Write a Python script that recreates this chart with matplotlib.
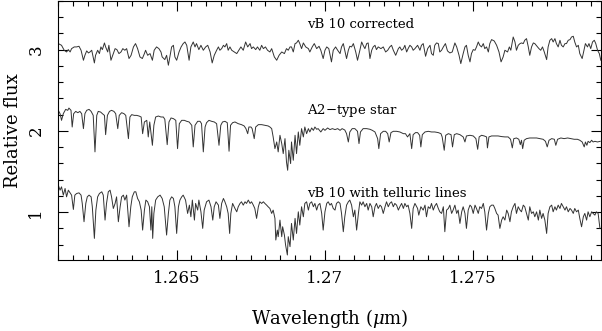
import matplotlib; matplotlib.use("Agg")
import matplotlib.pyplot as plt
from matplotlib.ticker import MultipleLocator, FuncFormatter

plt.rcParams.update({
    "font.family": "serif", "font.serif": ["DejaVu Serif"], "mathtext.fontset": "dejavuserif",
    "font.size": 12, "xtick.direction": "in", "ytick.direction": "in",
    "xtick.top": True, "ytick.right": True,
})

# vB 10 corrected (offset to ~3)
WAVE_TOP = [1.26100, 1.26111, 1.26120, 1.26128, 1.26134, 1.26140, 1.26145, 1.26154, 1.26162, 1.26170,
            1.26177, 1.26185, 1.26190, 1.26196, 1.26202, 1.26207, 1.26213, 1.26222, 1.26226, 1.26233,
            1.26239, 1.26244, 1.26249, 1.26256, 1.26260, 1.26267, 1.26271, 1.26278, 1.26286, 1.26292,
            1.26298, 1.26305, 1.26312, 1.26318, 1.26325, 1.26331, 1.26339, 1.26346, 1.26354, 1.26361,
            1.26368, 1.26376, 1.26384, 1.26391, 1.26395, 1.26402, 1.26410, 1.26418, 1.26424, 1.26432,
            1.26440, 1.26447, 1.26451, 1.26460, 1.26466, 1.26472, 1.26477, 1.26483, 1.26489, 1.26494,
            1.26500, 1.26508, 1.26515, 1.26522, 1.26528, 1.26534, 1.26542, 1.26548, 1.26556, 1.26562,
            1.26567, 1.26575, 1.26582, 1.26590, 1.26598, 1.26605, 1.26613, 1.26620, 1.26627, 1.26635,
            1.26641, 1.26646, 1.26652, 1.26658, 1.26663, 1.26669, 1.26674, 1.26680, 1.26686, 1.26695,
            1.26703, 1.26710, 1.26717, 1.26725, 1.26733, 1.26740, 1.26748, 1.26753, 1.26759, 1.26767,
            1.26773, 1.26781, 1.26787, 1.26793, 1.26800, 1.26807, 1.26815, 1.26821, 1.26830, 1.26838,
            1.26846, 1.26855, 1.26864, 1.26871, 1.26877, 1.26883, 1.26888, 1.26894, 1.26900, 1.26905,
            1.26911, 1.26916, 1.26922, 1.26928, 1.26936, 1.26945, 1.26950, 1.26958, 1.26965, 1.26973,
            1.26981, 1.26987, 1.26995, 1.27001, 1.27007, 1.27014, 1.27023, 1.27029, 1.27037, 1.27044,
            1.27052, 1.27057, 1.27063, 1.27068, 1.27074, 1.27080, 1.27085, 1.27091, 1.27097, 1.27105,
            1.27111, 1.27119, 1.27125, 1.27130, 1.27136, 1.27142, 1.27147, 1.27153, 1.27159, 1.27164,
            1.27170, 1.27175, 1.27181, 1.27190, 1.27198, 1.27206, 1.27213, 1.27220, 1.27226, 1.27232,
            1.27240, 1.27249, 1.27254, 1.27260, 1.27266, 1.27271, 1.27277, 1.27282, 1.27288, 1.27294,
            1.27299, 1.27305, 1.27314, 1.27322, 1.27327, 1.27333, 1.27341, 1.27348, 1.27356, 1.27361,
            1.27367, 1.27372, 1.27378, 1.27384, 1.27389, 1.27395, 1.27401, 1.27408, 1.27415, 1.27423,
            1.27431, 1.27440, 1.27446, 1.27454, 1.27460, 1.27468, 1.27474, 1.27479, 1.27485, 1.27491,
            1.27496, 1.27502, 1.27508, 1.27513, 1.27519, 1.27524, 1.27530, 1.27536, 1.27541, 1.27547,
            1.27553, 1.27558, 1.27564, 1.27573, 1.27581, 1.27589, 1.27596, 1.27603, 1.27609, 1.27618,
            1.27624, 1.27629, 1.27637, 1.27643, 1.27648, 1.27654, 1.27660, 1.27665, 1.27671, 1.27676,
            1.27682, 1.27688, 1.27693, 1.27699, 1.27705, 1.27710, 1.27719, 1.27724, 1.27730, 1.27736,
            1.27742, 1.27750, 1.27755, 1.27761, 1.27767, 1.27772, 1.27778, 1.27783, 1.27789, 1.27795,
            1.27800, 1.27806, 1.27812, 1.27817, 1.27823, 1.27829, 1.27834, 1.27840, 1.27845, 1.27851,
            1.27857, 1.27862, 1.27870, 1.27876, 1.27881, 1.27888, 1.27893, 1.27899, 1.27905, 1.27911,
            1.27916, 1.27922, 1.27928, 1.27933]
FLUX_TOP = [3.074, 3.053, 2.992, 2.971, 3.000, 2.971, 3.012, 3.033, 3.033, 3.041,
            2.992, 2.869, 2.930, 2.984, 2.959, 2.971, 2.992, 2.836, 2.930, 2.992,
            2.951, 3.033, 3.000, 3.082, 3.033, 2.971, 3.053, 2.869, 2.951, 3.012,
            3.000, 2.951, 2.971, 3.012, 2.992, 3.012, 2.890, 2.930, 3.033, 3.074,
            3.012, 2.910, 2.890, 2.951, 2.992, 2.930, 2.951, 2.869, 2.992, 3.033,
            3.012, 2.971, 2.910, 2.877, 2.930, 2.808, 2.910, 3.033, 3.053, 2.910,
            2.869, 2.971, 3.033, 3.074, 3.094, 3.053, 2.869, 3.033, 3.094, 3.033,
            3.074, 3.000, 3.053, 2.992, 3.033, 3.053, 2.971, 2.836, 2.930, 2.992,
            3.033, 2.992, 3.012, 3.053, 3.033, 3.074, 2.992, 3.033, 2.992, 2.971,
            2.951, 2.992, 3.033, 2.992, 3.094, 3.033, 3.074, 3.012, 3.033, 3.000,
            3.033, 2.992, 3.053, 3.012, 3.033, 2.992, 2.971, 3.012, 2.910, 2.869,
            2.930, 2.971, 2.951, 3.012, 2.992, 3.033, 3.033, 2.971, 3.074, 3.082,
            3.115, 3.074, 3.012, 3.082, 3.033, 3.012, 2.971, 3.033, 3.074, 3.012,
            3.041, 2.992, 2.890, 2.992, 3.033, 3.012, 2.849, 2.992, 3.033, 2.992,
            2.951, 3.033, 3.074, 2.992, 2.890, 2.992, 3.041, 3.033, 3.074, 2.971,
            2.869, 2.992, 3.094, 3.053, 3.012, 3.074, 3.082, 2.890, 2.992, 3.033,
            3.053, 3.000, 3.033, 3.012, 3.033, 2.971, 2.992, 3.033, 3.053, 2.992,
            2.930, 3.012, 3.033, 2.992, 3.012, 3.053, 2.971, 3.012, 3.053, 3.033,
            2.992, 3.012, 3.053, 2.992, 3.053, 3.074, 2.918, 3.012, 3.053, 2.951,
            2.930, 3.053, 3.082, 3.074, 2.971, 2.992, 3.033, 3.074, 2.984, 2.959,
            2.971, 3.082, 3.033, 2.930, 2.828, 2.951, 3.033, 3.053, 2.930, 2.849,
            2.951, 3.000, 2.992, 3.033, 3.094, 3.053, 3.033, 3.074, 3.012, 3.033,
            2.971, 3.074, 3.123, 3.106, 3.053, 2.971, 2.849, 2.910, 2.992, 2.971,
            3.033, 2.992, 3.155, 3.094, 2.992, 3.053, 3.074, 3.082, 3.074, 3.115,
            3.135, 3.033, 2.930, 3.033, 3.082, 3.074, 3.033, 3.012, 2.992, 3.033,
            2.971, 2.877, 3.033, 3.115, 3.135, 3.094, 3.135, 3.074, 3.033, 3.115,
            3.053, 3.033, 3.074, 3.074, 3.115, 3.123, 3.155, 3.164, 3.094, 3.033,
            3.053, 2.951, 2.890, 2.992, 3.074, 3.033, 3.074, 3.012, 3.094, 3.115,
            3.074, 2.992, 2.951, 2.869]

# A2-type star (offset to ~2)
WAVE_A2 = [1.26100, 1.26106, 1.26111, 1.26117, 1.26125, 1.26132, 1.26136, 1.26143, 1.26147, 1.26152,
           1.26159, 1.26166, 1.26173, 1.26179, 1.26185, 1.26190, 1.26196, 1.26204, 1.26211, 1.26218,
           1.26224, 1.26230, 1.26235, 1.26243, 1.26249, 1.26256, 1.26260, 1.26266, 1.26273, 1.26280,
           1.26288, 1.26294, 1.26301, 1.26306, 1.26314, 1.26322, 1.26328, 1.26337, 1.26342, 1.26348,
           1.26357, 1.26365, 1.26373, 1.26380, 1.26385, 1.26391, 1.26399, 1.26404, 1.26409, 1.26413,
           1.26418, 1.26423, 1.26429, 1.26438, 1.26447, 1.26455, 1.26460, 1.26468, 1.26474, 1.26481,
           1.26489, 1.26497, 1.26503, 1.26509, 1.26517, 1.26526, 1.26534, 1.26542, 1.26551, 1.26556,
           1.26562, 1.26571, 1.26579, 1.26584, 1.26590, 1.26596, 1.26601, 1.26609, 1.26618, 1.26627,
           1.26635, 1.26643, 1.26649, 1.26655, 1.26663, 1.26671, 1.26677, 1.26682, 1.26689, 1.26697,
           1.26708, 1.26719, 1.26728, 1.26734, 1.26740, 1.26744, 1.26751, 1.26755, 1.26762, 1.26767,
           1.26776, 1.26787, 1.26798, 1.26809, 1.26815, 1.26821, 1.26826, 1.26832, 1.26838, 1.26843,
           1.26849, 1.26855, 1.26860, 1.26866, 1.26871, 1.26875, 1.26879, 1.26885, 1.26888, 1.26894,
           1.26900, 1.26905, 1.26911, 1.26916, 1.26922, 1.26928, 1.26933, 1.26939, 1.26945, 1.26950,
           1.26956, 1.26962, 1.26967, 1.26973, 1.26978, 1.26987, 1.26995, 1.27001, 1.27010, 1.27018,
           1.27026, 1.27035, 1.27044, 1.27052, 1.27059, 1.27068, 1.27074, 1.27080, 1.27085, 1.27093,
           1.27102, 1.27111, 1.27116, 1.27121, 1.27130, 1.27142, 1.27153, 1.27161, 1.27170, 1.27179,
           1.27183, 1.27189, 1.27198, 1.27206, 1.27213, 1.27218, 1.27224, 1.27232, 1.27243, 1.27254,
           1.27266, 1.27273, 1.27280, 1.27288, 1.27294, 1.27299, 1.27307, 1.27314, 1.27321, 1.27325,
           1.27330, 1.27339, 1.27350, 1.27361, 1.27372, 1.27384, 1.27393, 1.27397, 1.27404, 1.27409,
           1.27418, 1.27427, 1.27432, 1.27438, 1.27446, 1.27457, 1.27468, 1.27474, 1.27479, 1.27491,
           1.27502, 1.27511, 1.27517, 1.27522, 1.27530, 1.27539, 1.27547, 1.27550, 1.27555, 1.27564,
           1.27575, 1.27586, 1.27598, 1.27609, 1.27620, 1.27628, 1.27634, 1.27639, 1.27648, 1.27656,
           1.27661, 1.27665, 1.27669, 1.27674, 1.27682, 1.27693, 1.27705, 1.27716, 1.27727, 1.27738,
           1.27746, 1.27752, 1.27758, 1.27767, 1.27776, 1.27781, 1.27787, 1.27798, 1.27809, 1.27821,
           1.27832, 1.27843, 1.27854, 1.27862, 1.27870, 1.27877, 1.27881, 1.27886, 1.27890, 1.27896,
           1.27902, 1.27907, 1.27913, 1.27922, 1.27931]
FLUX_A2 = [2.253, 2.212, 2.130, 2.212, 2.265, 2.253, 2.281, 2.253, 2.048, 2.212,
           2.240, 2.224, 2.240, 2.212, 2.028, 2.212, 2.253, 2.265, 2.240, 2.191,
           1.742, 2.191, 2.240, 2.232, 2.212, 2.191, 1.954, 2.191, 2.240, 2.253,
           2.240, 2.212, 2.028, 2.191, 2.224, 2.212, 2.191, 1.905, 2.171, 2.200,
           2.191, 2.191, 2.183, 2.171, 1.966, 2.110, 2.130, 1.926, 2.110, 1.987,
           1.823, 2.069, 2.171, 2.183, 2.171, 2.171, 2.142, 1.831, 2.110, 2.159,
           2.151, 2.130, 1.782, 2.089, 2.130, 2.130, 2.118, 2.110, 2.069, 1.803,
           2.069, 2.118, 2.118, 2.089, 1.742, 2.048, 2.101, 2.130, 2.118, 2.110,
           2.089, 1.823, 2.069, 2.110, 2.118, 2.101, 1.750, 2.069, 2.101, 2.110,
           2.089, 2.077, 2.061, 2.028, 1.966, 2.048, 2.048, 2.028, 1.905, 2.048,
           2.077, 2.077, 2.069, 2.061, 2.048, 2.028, 1.926, 1.782, 1.864, 1.742,
           1.946, 1.844, 1.721, 1.905, 1.619, 1.516, 1.762, 1.598, 1.864, 1.639,
           1.946, 1.721, 1.987, 1.823, 2.028, 1.926, 2.048, 1.966, 2.028, 1.987,
           2.036, 2.007, 2.048, 2.020, 2.028, 1.987, 2.028, 2.007, 2.036, 2.016,
           2.028, 2.016, 2.028, 2.007, 2.028, 2.011, 1.966, 1.864, 1.987, 2.028,
           2.028, 1.995, 1.844, 1.987, 2.028, 2.028, 2.020, 2.007, 1.987, 1.905,
           1.782, 1.966, 1.995, 1.995, 1.966, 1.864, 1.979, 1.995, 1.995, 1.987,
           1.966, 1.966, 1.926, 1.966, 1.782, 1.954, 1.979, 1.979, 1.946, 1.803,
           1.954, 1.987, 1.995, 1.987, 1.987, 1.979, 1.966, 1.926, 1.762, 1.946,
           1.966, 1.954, 1.803, 1.954, 1.966, 1.954, 1.926, 1.864, 1.938, 1.946,
           1.938, 1.905, 1.774, 1.926, 1.946, 1.938, 1.926, 1.791, 1.926, 1.938,
           1.938, 1.938, 1.930, 1.926, 1.926, 1.897, 1.791, 1.905, 1.913, 1.897,
           1.831, 1.885, 1.782, 1.885, 1.905, 1.913, 1.913, 1.913, 1.905, 1.897,
           1.872, 1.803, 1.885, 1.905, 1.897, 1.823, 1.897, 1.913, 1.905, 1.913,
           1.905, 1.897, 1.897, 1.885, 1.864, 1.803, 1.864, 1.823, 1.872, 1.856,
           1.885, 1.864, 1.872, 1.864, 1.872]

# vB 10 with telluric lines (~1)
WAVE_RAW = [1.26100, 1.26106, 1.26111, 1.26117, 1.26123, 1.26128, 1.26134, 1.26140, 1.26145, 1.26151,
            1.26156, 1.26162, 1.26170, 1.26177, 1.26181, 1.26187, 1.26193, 1.26198, 1.26204, 1.26211,
            1.26215, 1.26222, 1.26227, 1.26233, 1.26239, 1.26247, 1.26252, 1.26258, 1.26263, 1.26269,
            1.26275, 1.26280, 1.26286, 1.26292, 1.26297, 1.26303, 1.26309, 1.26314, 1.26320, 1.26325,
            1.26331, 1.26339, 1.26345, 1.26350, 1.26357, 1.26362, 1.26368, 1.26374, 1.26380, 1.26385,
            1.26391, 1.26396, 1.26402, 1.26408, 1.26413, 1.26416, 1.26419, 1.26423, 1.26429, 1.26436,
            1.26444, 1.26451, 1.26458, 1.26466, 1.26472, 1.26477, 1.26483, 1.26489, 1.26494, 1.26500,
            1.26506, 1.26511, 1.26517, 1.26522, 1.26530, 1.26537, 1.26543, 1.26548, 1.26553, 1.26560,
            1.26564, 1.26571, 1.26575, 1.26582, 1.26588, 1.26593, 1.26601, 1.26609, 1.26616, 1.26622,
            1.26627, 1.26633, 1.26641, 1.26646, 1.26652, 1.26658, 1.26663, 1.26669, 1.26674, 1.26679,
            1.26683, 1.26689, 1.26697, 1.26703, 1.26708, 1.26714, 1.26719, 1.26725, 1.26731, 1.26736,
            1.26742, 1.26748, 1.26753, 1.26759, 1.26764, 1.26770, 1.26776, 1.26781, 1.26787, 1.26793,
            1.26798, 1.26804, 1.26809, 1.26815, 1.26821, 1.26826, 1.26832, 1.26835, 1.26840, 1.26843,
            1.26849, 1.26855, 1.26858, 1.26864, 1.26868, 1.26874, 1.26877, 1.26883, 1.26888, 1.26894,
            1.26900, 1.26905, 1.26911, 1.26916, 1.26922, 1.26928, 1.26933, 1.26939, 1.26945, 1.26950,
            1.26956, 1.26962, 1.26967, 1.26973, 1.26978, 1.26984, 1.26990, 1.26995, 1.27001, 1.27007,
            1.27012, 1.27018, 1.27023, 1.27029, 1.27035, 1.27040, 1.27046, 1.27052, 1.27057, 1.27063,
            1.27068, 1.27074, 1.27080, 1.27085, 1.27091, 1.27097, 1.27102, 1.27108, 1.27114, 1.27119,
            1.27125, 1.27130, 1.27136, 1.27142, 1.27147, 1.27153, 1.27159, 1.27164, 1.27170, 1.27175,
            1.27181, 1.27187, 1.27192, 1.27198, 1.27204, 1.27209, 1.27215, 1.27220, 1.27226, 1.27232,
            1.27237, 1.27243, 1.27249, 1.27254, 1.27260, 1.27266, 1.27271, 1.27277, 1.27282, 1.27288,
            1.27294, 1.27299, 1.27305, 1.27314, 1.27318, 1.27325, 1.27333, 1.27339, 1.27344, 1.27350,
            1.27356, 1.27361, 1.27367, 1.27372, 1.27378, 1.27384, 1.27389, 1.27395, 1.27401, 1.27406,
            1.27412, 1.27418, 1.27423, 1.27429, 1.27434, 1.27440, 1.27446, 1.27451, 1.27457, 1.27463,
            1.27468, 1.27474, 1.27479, 1.27485, 1.27491, 1.27496, 1.27502, 1.27508, 1.27513, 1.27519,
            1.27524, 1.27530, 1.27536, 1.27541, 1.27547, 1.27553, 1.27558, 1.27564, 1.27570, 1.27575,
            1.27581, 1.27586, 1.27592, 1.27598, 1.27603, 1.27609, 1.27615, 1.27620, 1.27626, 1.27631,
            1.27637, 1.27643, 1.27648, 1.27654, 1.27660, 1.27665, 1.27671, 1.27676, 1.27682, 1.27688,
            1.27693, 1.27699, 1.27705, 1.27710, 1.27716, 1.27722, 1.27727, 1.27733, 1.27738, 1.27744,
            1.27750, 1.27755, 1.27761, 1.27767, 1.27772, 1.27778, 1.27783, 1.27789, 1.27795, 1.27800,
            1.27806, 1.27812, 1.27817, 1.27823, 1.27829, 1.27834, 1.27840, 1.27845, 1.27851, 1.27857,
            1.27862, 1.27868, 1.27874, 1.27879, 1.27885, 1.27890, 1.27896, 1.27902, 1.27907, 1.27913,
            1.27918, 1.27924, 1.27930]
FLUX_RAW = [1.333, 1.271, 1.312, 1.210, 1.292, 1.189, 1.271, 1.238, 1.210, 1.034,
            1.210, 1.230, 1.238, 1.210, 1.108, 0.883, 1.108, 1.189, 1.210, 1.189,
            1.067, 0.678, 1.026, 1.189, 1.230, 1.251, 1.210, 0.903, 1.108, 1.251,
            1.271, 1.189, 1.046, 1.108, 1.189, 0.883, 1.067, 1.189, 1.210, 1.149,
            1.210, 0.821, 1.067, 1.189, 1.251, 1.251, 1.169, 1.128, 1.026, 0.780,
            1.026, 1.149, 1.128, 1.067, 0.780, 1.067, 0.678, 0.985, 1.149, 1.189,
            1.210, 1.169, 1.067, 0.719, 0.985, 1.149, 1.189, 1.169, 1.067, 0.739,
            1.067, 1.149, 1.189, 1.210, 1.149, 0.985, 1.087, 0.944, 1.149, 0.903,
            1.108, 1.026, 1.149, 1.005, 0.801, 1.026, 1.128, 1.149, 1.067, 0.903,
            1.067, 1.128, 1.087, 0.924, 1.108, 1.169, 1.128, 1.067, 0.985, 0.739,
            0.985, 1.108, 1.046, 1.005, 1.067, 1.108, 1.128, 1.087, 1.128, 1.108,
            1.149, 1.108, 1.128, 1.087, 1.046, 0.924, 1.067, 1.128, 1.108, 1.128,
            1.108, 1.087, 1.067, 1.046, 0.985, 1.026, 0.924, 0.658, 0.780, 0.699,
            0.903, 0.699, 0.821, 0.719, 0.596, 0.474, 0.699, 0.576, 0.862, 0.658,
            0.924, 0.739, 1.005, 0.842, 1.067, 0.944, 1.108, 1.128, 1.026, 1.108,
            1.128, 1.067, 1.108, 1.026, 1.087, 1.108, 0.985, 0.780, 1.005, 1.108,
            1.128, 1.087, 1.108, 1.046, 1.026, 1.108, 1.128, 1.108, 0.985, 0.760,
            0.944, 1.087, 1.128, 1.149, 1.087, 0.944, 1.026, 0.780, 0.985, 1.128,
            1.087, 1.128, 1.067, 1.108, 1.026, 1.108, 1.067, 0.944, 1.067, 1.108,
            1.046, 1.087, 1.067, 0.985, 1.067, 1.128, 1.067, 1.108, 1.128, 1.067,
            1.108, 1.087, 1.026, 1.067, 1.108, 1.046, 1.108, 1.067, 1.087, 0.985,
            0.801, 1.046, 1.108, 1.046, 0.964, 1.067, 1.026, 1.087, 0.944, 1.067,
            1.046, 1.108, 1.026, 1.075, 1.108, 1.046, 1.005, 0.985, 1.067, 0.760,
            1.026, 1.046, 1.087, 0.985, 1.026, 1.087, 0.985, 1.026, 0.862, 1.005,
            1.067, 0.985, 0.801, 1.026, 1.087, 1.067, 0.985, 1.087, 1.046, 0.985,
            1.067, 1.046, 1.108, 1.005, 0.780, 0.985, 1.067, 1.087, 1.087, 1.046,
            0.985, 0.964, 0.801, 0.903, 0.944, 0.903, 1.026, 0.985, 0.883, 1.005,
            1.067, 1.108, 0.985, 1.067, 1.026, 1.005, 1.087, 1.067, 0.985, 0.903,
            1.067, 0.985, 1.005, 0.944, 1.005, 0.903, 1.026, 0.924, 0.985, 0.903,
            0.739, 0.985, 1.067, 1.087, 1.005, 1.067, 1.026, 1.087, 1.046, 1.108,
            1.067, 1.026, 1.067, 1.005, 1.046, 1.026, 0.985, 1.046, 1.005, 1.026,
            0.924, 0.821, 0.944, 0.985, 0.903, 1.005, 0.944, 1.005, 0.985, 0.964,
            1.005, 0.985, 0.801]

LABELS = ["vB 10 corrected", "A2$-$type star", "vB 10 with telluric lines"]
LABEL_Y = [3.31, 2.255, 1.232]

fig = plt.figure(figsize=(6.02, 3.31), dpi=100)
ax = fig.add_axes([0.0968, 0.213, 0.9022, 0.785])
for w, f in ((WAVE_TOP, FLUX_TOP), (WAVE_A2, FLUX_A2), (WAVE_RAW, FLUX_RAW)):
    ax.plot(w, f, color="#333333", lw=0.7)
for txt, yy in zip(LABELS, LABEL_Y):
    ax.text(1.2694, yy, txt, fontsize=9.5, ha="left", va="center")

ax.set_xlim(1.26100, 1.27935); ax.set_ylim(0.406, 3.602)
ax.xaxis.set_major_locator(MultipleLocator(0.005)); ax.xaxis.set_minor_locator(MultipleLocator(0.0005))
ax.yaxis.set_major_locator(MultipleLocator(1)); ax.yaxis.set_minor_locator(MultipleLocator(0.2))
ax.xaxis.set_major_formatter(FuncFormatter(lambda v, p: f"{v:g}"))
ax.tick_params(which="major", length=7, width=0.8, labelsize=12)
ax.tick_params(axis="x", which="major", pad=7)
ax.tick_params(axis="y", which="major", pad=10)
ax.tick_params(which="minor", length=3.5, width=0.8)
for lab in ax.get_yticklabels():
    lab.set_rotation(90); lab.set_va("center")
ax.set_xlabel(r"Wavelength ($\mu$m)", fontsize=13, labelpad=14)
ax.set_ylabel("Relative flux", fontsize=13, labelpad=4)
fig.savefig("out.png", dpi=100)
